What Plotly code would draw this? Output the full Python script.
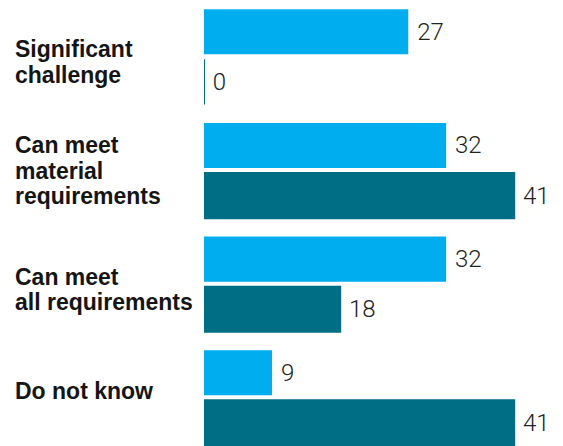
import plotly.graph_objects as go

categories = ["Significant<br>challenge", "Can meet<br>material<br>requirements",
              "Can meet<br>all requirements", "Do not know"]
series_a = [27, 32, 32, 9]
series_b = [0, 41, 18, 41]

# label placement tweaks (px), the original labels are not exactly centred
label_offset = [5, 0, 5.5, -6.5]
LINE_STEP = 25.5

BAR_GAP = 0.118
GROUP_GAP = 0.1
CAT_PX = 113.67   # pixels per category on the y axis
PAGE_PAD = 8      # body margin of the html page

fig = go.Figure()
fig.add_trace(go.Bar(
    y=categories, x=series_a, orientation="h",
    marker=dict(color="#00ADEF", line=dict(width=0)),
    text=["\u00a0" + str(v) for v in series_a], textposition="outside",
    cliponaxis=False,
))
fig.add_trace(go.Bar(
    y=categories, x=series_b, orientation="h",
    marker=dict(color="#006F85", line=dict(color="#006F85", width=2)),
    text=["\u00a0" + str(v) for v in series_b], textposition="outside",
    cliponaxis=False,
))

fig.update_traces(textfont=dict(family="Roboto", size=24, color="#222222", weight=300),
                  hoverinfo="skip")

for c, cat in enumerate(categories):
    lines = cat.split("<br>")
    n = len(lines)
    for i, line in enumerate(lines):
        fig.add_annotation(
            x=0, xref="paper", xshift=-191, xanchor="left",
            y=cat, yref="y", yanchor="middle",
            yshift=-(i - (n - 1) / 2) * LINE_STEP - label_offset[c],
            text="<b>" + line + "</b>", showarrow=False, align="left",
            font=dict(family="Liberation Sans", size=23, color="#151515"),
        )

y_top = -0.5 + PAGE_PAD / CAT_PX
y_bottom = -0.5 + 446 / CAT_PX

fig.update_layout(
    width=563 - PAGE_PAD, height=446 - PAGE_PAD,
    margin=dict(l=204 - PAGE_PAD, r=0, t=0, b=0),
    barmode="group", bargap=BAR_GAP, bargroupgap=GROUP_GAP,
    paper_bgcolor="white", plot_bgcolor="white",
    showlegend=False,
    xaxis=dict(range=[0, 47.45], visible=False),
    yaxis=dict(range=[y_bottom, y_top], visible=False),
)

fig.write_html("out.html")
